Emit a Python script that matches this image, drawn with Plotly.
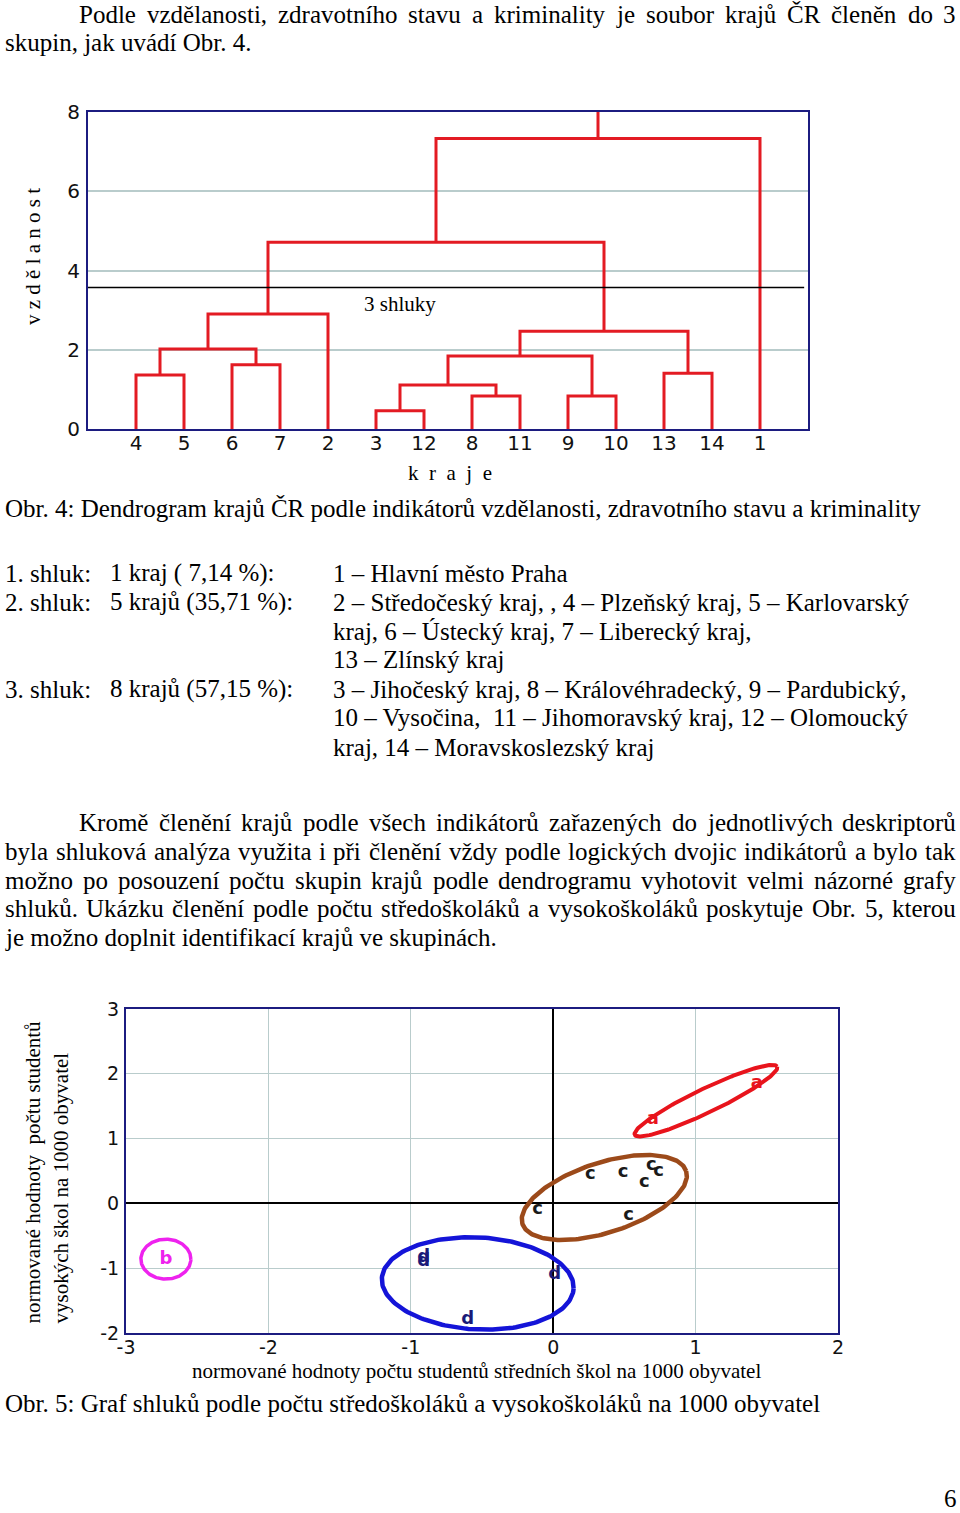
import numpy as np
import plotly.graph_objects as go

W, H = 960, 1513

# ---------------- data: dendrogram ----------------
leaf_order = ["4", "5", "6", "7", "2", "3", "12", "8", "11", "9", "10", "13", "14", "1"]
merge_left = ["4", "6", "m0", "m2", "3", "8", "m4", "9", "m6", "13", "m8", "m3", "m11"]
merge_right = ["5", "7", "m1", "2", "12", "11", "m5", "10", "m7", "14", "m9", "m10", "1"]
merge_height = [1.36, 1.62, 2.02, 2.90, 0.46, 0.83, 1.11, 0.83, 1.84, 1.41, 2.47, 4.71, 7.33]
cut_height = 3.57
dendro_yticks = [0, 2, 4, 6, 8]

# ---------------- data: scatter of clusters ----------------
pt_label = ["a", "a", "b", "c", "c", "c", "c", "c", "c", "c", "d", "d", "d", "d"]
pt_x = [1.43, 0.70, -2.72, 0.26, 0.49, 0.69, 0.74, 0.64, -0.11, 0.53, -0.91, -0.91, 0.01, -0.60]
pt_y = [1.85, 1.30, -0.86, 0.44, 0.47, 0.58, 0.50, 0.32, -0.10, -0.19, -0.83, -0.90, -1.09, -1.79]
scatter_xticks = [-3, -2, -1, 0, 1, 2]
scatter_yticks = [-2, -1, 0, 1, 2, 3]

# cluster ellipses: centre in data units, semi-axes in px, angle in degrees
ell_name = ["a", "c", "d", "b"]
ell_cx = [1.073, 0.359, -0.53, -2.72]
ell_cy = [1.585, 0.091, -1.235, -0.86]
ell_a = [79, 86, 96, 25]
ell_b = [12, 35, 46, 20]
ell_ang = [25.6, 17.9, -3.0, 0.0]

letter_color = {"a": "#e8141c", "b": "#ee22ee", "c": "#1a1a1a", "d": "#1a1a78"}
ell_color = {"a": "#e8141c", "b": "#ee22ee", "c": "#9c4a1a", "d": "#1414d8"}
ell_width = {"a": 4, "b": 3.5, "c": 4.5, "d": 4.5}

# ---------------- layout geometry (px) ----------------
D_L, D_R, D_T, D_B = 88, 808, 112, 429
S_L, S_R, S_T, S_B = 126, 838, 1009, 1333
NAVY = "#1c1c80"
GRID = "#b9cccc"
RED = "#e31b23"
SERIF = "Liberation Serif"
SANS = "DejaVu Sans"

fig = go.Figure()

# ---- dendrogram traces ----
pos = {lab: i + 1 for i, lab in enumerate(leaf_order)}
hgt = {lab: 0.0 for lab in leaf_order}
lx, ly = [], []
for k, (l, r, h) in enumerate(zip(merge_left, merge_right, merge_height)):
    xl, xr = pos[l], pos[r]
    lx += [xl, xl, xr, xr, None]
    ly += [hgt[l], h, h, hgt[r], None]
    pos["m%d" % k] = (xl + xr) / 2
    hgt["m%d" % k] = h
root = "m%d" % (len(merge_height) - 1)
lx += [pos[root], pos[root]]
ly += [hgt[root], 8]
fig.add_trace(go.Scatter(x=lx, y=ly, mode="lines", line=dict(color=RED, width=3),
                         xaxis="x", yaxis="y", hoverinfo="skip", showlegend=False))
fig.add_trace(go.Scatter(x=[0, 14.92], y=[cut_height, cut_height], mode="lines",
                         line=dict(color="black", width=1.5), xaxis="x", yaxis="y",
                         hoverinfo="skip", showlegend=False))

# ---- scatter ellipses ----
sx = (S_R - S_L) / (scatter_xticks[-1] - scatter_xticks[0])
sy = (S_B - S_T) / (scatter_yticks[-1] - scatter_yticks[0])
t = np.linspace(0, 2 * np.pi, 200)
for n, cx, cy, a, b, ang in zip(ell_name, ell_cx, ell_cy, ell_a, ell_b, ell_ang):
    th = np.radians(ang)
    dx = a * np.cos(t) * np.cos(th) - b * np.sin(t) * np.sin(th)
    dy = a * np.cos(t) * np.sin(th) + b * np.sin(t) * np.cos(th)
    fig.add_trace(go.Scatter(x=cx + dx / sx, y=cy + dy / sy, mode="lines",
                             line=dict(color=ell_color[n], width=ell_width[n]),
                             xaxis="x2", yaxis="y2", hoverinfo="skip", showlegend=False))

for lab in ["a", "b", "c", "d"]:
    xs = [x for x, l in zip(pt_x, pt_label) if l == lab]
    ys = [y for y, l in zip(pt_y, pt_label) if l == lab]
    fig.add_trace(go.Scatter(x=xs, y=ys, mode="text", text=[lab] * len(xs),
                             textposition="middle center",
                             textfont=dict(family=SANS, size=18, color=letter_color[lab], weight="bold"),
                             xaxis="x2", yaxis="y2", showlegend=False))

# ---------------- annotations (page text) ----------------
ann = []


def txt(x, y, s, size=25, anchor="left", family=SERIF, angle=0, yanchor="middle"):
    ann.append(dict(x=x / W, y=1 - y / H, xref="paper", yref="paper", text=s, showarrow=False,
                    xanchor=anchor, yanchor=yanchor, textangle=angle, borderpad=0,
                    font=dict(family=family, size=size, color="black")))


TW = {" ": 250, "a": 444, "b": 500, "c": 444, "d": 500, "e": 444, "f": 333, "g": 500, "h": 500,
      "i": 278, "j": 278, "k": 500, "l": 278, "m": 778, "n": 500, "o": 500, "p": 500, "q": 500,
      "r": 333, "s": 389, "t": 278, "u": 500, "v": 500, "w": 722, "x": 500, "y": 500, "z": 444,
      "A": 722, "B": 667, "C": 667, "D": 722, "E": 611, "F": 556, "G": 722, "H": 722, "I": 333,
      "K": 722, "L": 611, "M": 889, "N": 722, "O": 722, "P": 556, "R": 667, "S": 556, "T": 611,
      "U": 722, "V": 722, "Z": 611, ".": 250, ",": 250, ":": 278, "(": 333, ")": 333, "%": 833,
      "ě": 444, "é": 444, "š": 389, "č": 444, "ř": 333, "ž": 444, "ý": 500, "á": 444, "í": 278,
      "ů": 500, "ú": 500, "ň": 500, "Č": 667, "Ú": 722}


def wwidth(s, size):
    return sum(TW.get(ch, 500) for ch in s) * size / 1000.0


def justify(x0, x1, y, line, size=25):
    words = line.split(" ")
    ws = [wwidth(w, size) for w in words]
    gap = (x1 - x0 - sum(ws)) / (len(words) - 1)
    x = x0
    for w, wd in zip(words, ws):
        txt(x, y, w, size)
        x += wd + gap


justify(78, 955, 15, "Podle vzdělanosti, zdravotního stavu a kriminality je soubor krajů ČR členěn do 3")
txt(4, 43, "skupin, jak uvádí Obr. 4.")

txt(4, 508, "Obr. 4: Dendrogram krajů ČR podle indikátorů vzdělanosti, zdravotního stavu a kriminality")

txt(4, 573, "1. shluk:")
txt(109, 573, "1 kraj ( 7,14 %):")
txt(332, 573, "1 – Hlavní město Praha")
txt(4, 602, "2. shluk:")
txt(109, 602, "5 krajů (35,71 %):")
txt(332, 602, "2 – Středočeský kraj, , 4 – Plzeňský kraj, 5 – Karlovarský")
txt(332, 631, "kraj, 6 – Ústecký kraj, 7 – Liberecký kraj,")
txt(332, 660, "13 – Zlínský kraj")
txt(4, 689, "3. shluk:")
txt(109, 689, "8 krajů (57,15 %):")
txt(332, 689, "3 – Jihočeský kraj, 8 – Královéhradecký, 9 – Pardubický,")
txt(332, 718, "10 – Vysočina,\u00a0 11 – Jihomoravský kraj, 12 – Olomoucký")
txt(332, 747, "kraj, 14 – Moravskoslezský kraj")

justify(78, 955, 822, "Kromě členění krajů podle všech indikátorů zařazených do jednotlivých deskriptorů")
justify(4, 955, 851, "byla shluková analýza využita i při členění vždy podle logických dvojic indikátorů a bylo tak")
justify(4, 955, 880, "možno po posouzení počtu skupin krajů podle dendrogramu vyhotovit velmi názorné grafy")
justify(4, 955, 908, "shluků. Ukázku členění podle počtu středoškoláků a vysokoškoláků poskytuje Obr. 5, kterou")
txt(4, 937, "je možno doplnit identifikací krajů ve skupinách.")

txt(4, 1403, "Obr. 5: Graf shluků podle počtu středoškoláků a vysokoškoláků na 1000 obyvatel")
txt(950, 1513, "6", anchor="center", yanchor="bottom")

# dendrogram texts
txt(33, 257, "v z d ě l a n o s t", size=21, anchor="center", angle=-90)
txt(450, 473, "k\u00a0\u00a0r\u00a0\u00a0a\u00a0\u00a0j\u00a0\u00a0e", size=21, anchor="center")
txt(400, 304, "3 shluky", size=21, anchor="center")

# scatter axis titles
txt(476, 1371, "normované hodnoty počtu studentů středních škol na 1000 obyvatel", size=21, anchor="center")
txt(32, 1325, "normované hodnoty\u00a0 počtu studentů", size=21, anchor="center", angle=-90, yanchor="bottom")
txt(60, 1325, "vysokých škol na 1000 obyvatel", size=21, anchor="center", angle=-90, yanchor="bottom")

base = dict(showline=True, mirror=True, linecolor=NAVY, linewidth=2, ticks="", fixedrange=True,
            automargin=False)
dfont = dict(family=SANS, size=20, color="#111111")
sfont = dict(family=SANS, size=19, color="#111111")

fig.update_layout(
    width=W, height=H, margin=dict(l=0, r=0, t=0, b=0, pad=0, autoexpand=False),
    paper_bgcolor="white", plot_bgcolor="white", showlegend=False,
    annotations=ann,
    xaxis=dict(domain=[D_L / W, D_R / W], range=[0, len(leaf_order) + 1],
               tickvals=list(range(1, len(leaf_order) + 1)), ticktext=leaf_order,
               showgrid=False, zeroline=False, anchor="y", tickfont=dfont,
               ticklabelstandoff=-5, **base),
    yaxis=dict(domain=[1 - D_B / H, 1 - D_T / H], range=[0, 8], tickvals=dendro_yticks,
               ticktext=[str(v) for v in dendro_yticks],
               showgrid=True, gridcolor=GRID, gridwidth=1.5, zeroline=False, anchor="x",
               tickfont=dfont, ticklabelstandoff=2, **base),
    xaxis2=dict(domain=[S_L / W, S_R / W], range=[scatter_xticks[0], scatter_xticks[-1]],
                tickvals=scatter_xticks, ticktext=[str(v) for v in scatter_xticks],
                showgrid=True, gridcolor=GRID, gridwidth=1,
                zeroline=True, zerolinecolor="black", zerolinewidth=1.5, anchor="y2",
                tickfont=sfont, ticklabelstandoff=-4, **base),
    yaxis2=dict(domain=[1 - S_B / H, 1 - S_T / H], range=[scatter_yticks[0], scatter_yticks[-1]],
                tickvals=scatter_yticks, ticktext=[str(v) for v in scatter_yticks],
                showgrid=True, gridcolor=GRID, gridwidth=1,
                zeroline=True, zerolinecolor="black", zerolinewidth=1.5, anchor="x2",
                tickfont=sfont, ticklabelstandoff=1, **base),
)

fig.write_html("out.html")
